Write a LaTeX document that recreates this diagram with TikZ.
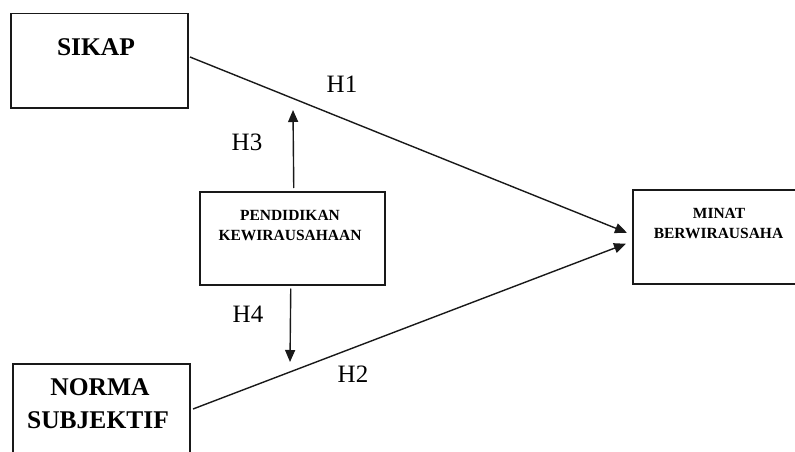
\documentclass[tikz,border=0pt]{standalone}
\usepackage{fontspec}
\setmainfont{Liberation Serif}
\usetikzlibrary{arrows.meta}
\begin{document}
\begin{tikzpicture}[x=1pt,y=-1pt,
  box/.style={draw=black!90,line width=1.5pt,rectangle,inner sep=0pt,anchor=north west},
  bigtxt/.style={font=\bfseries\fontsize{25.5}{30}\selectfont,inner sep=0pt,align=center},
  smalltxt/.style={font=\bfseries\fontsize{15.5}{19}\selectfont,inner sep=0pt,align=center},
  hlab/.style={font=\fontsize{25}{30}\selectfont,inner sep=0pt},
  conn/.style={draw=black!90,line width=1.4pt},
  arr/.style={conn,-{Triangle[length=12pt,width=10pt]}}]
\useasboundingbox (0,0) rectangle (795,452);
\clip (0,0) rectangle (795,452);
\fill[white] (0,0) rectangle (795,452);
% boxes
\node[box,minimum width=177pt,minimum height=94pt] (sikap) at (10,13) {};
\node[box,minimum width=185pt,minimum height=93pt] (pend) at (199,191) {};
\node[box,minimum width=177pt,minimum height=94pt] (norma) at (12,363) {};
\node[box,minimum width=175pt,minimum height=94pt] (minat) at (632,189) {};
% texts
\node[bigtxt] (tsikap) at (96,47) {SIKAP};
\node[bigtxt] (tnorma1) at (100,387) {NORMA};
\node[bigtxt] (tnorma2) at (98,420) {SUBJEKTIF};
\node[smalltxt] (tpend1) at (290,215) {PENDIDIKAN};
\node[smalltxt] (tpend2) at (290,235) {KEWIRAUSAHAAN};
\node[smalltxt] (tminat1) at (719,213.5) {MINAT};
\node[smalltxt] (tminat2) at (718.5,233.5) {BERWIRAUSAHA};
% labels
\node[hlab] (h1) at (342,84) {H1};
\node[hlab] (h3) at (247,142) {H3};
\node[hlab] (h4) at (248,314) {H4};
\node[hlab] (h2) at (353,374) {H2};
% connectors
\coordinate (h3tip) at (293,110);
\coordinate (h4tip) at (290,362);
\coordinate (s0) at (190,57);
\coordinate (n0) at (193,409);
\draw[arr] (s0) -- ([xshift=-5pt,yshift=4pt]minat.west);
\draw[arr] (n0) -- ([xshift=-6pt,yshift=-7pt]minat.west);
\draw[arr] ([xshift=1.5pt,yshift=3pt]pend.north) -- (h3tip);
\draw[arr] ([xshift=-1.5pt,yshift=-3pt]pend.south) -- (h4tip);
\end{tikzpicture}
\end{document}
